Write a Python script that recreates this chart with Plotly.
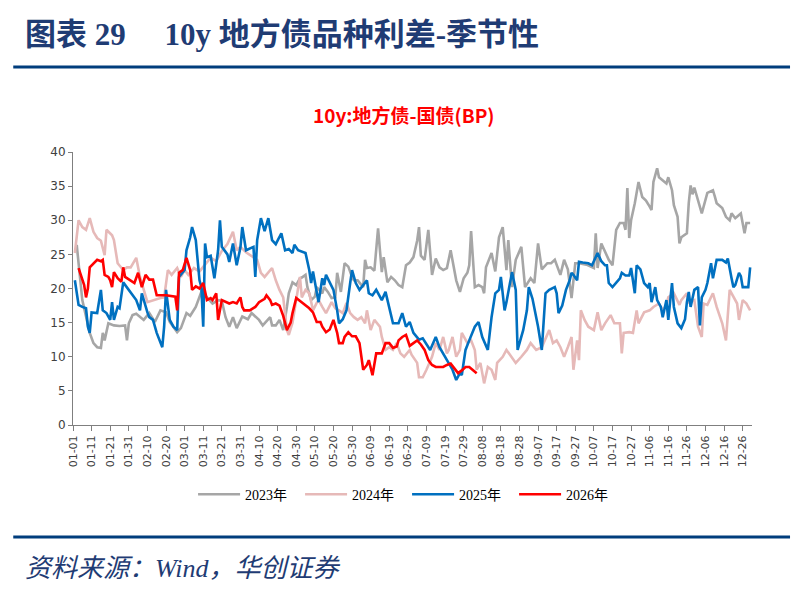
import plotly.graph_objs as go

# x = days since 01-01 (seasonal axis), y = spread in BP
tick_labels = ['01-01', '01-11', '01-21', '01-31', '02-10', '02-20', '03-01', '03-11', '03-21', '03-31',
               '04-10', '04-20', '04-30', '05-10', '05-20', '05-30', '06-09', '06-19', '06-29', '07-09',
               '07-19', '07-29', '08-08', '08-18', '08-28', '09-07', '09-17', '09-27', '10-07', '10-17',
               '10-27', '11-06', '11-16', '11-26', '12-06', '12-16', '12-26']

d2023 = [2, 5, 9, 11, 13, 15, 16, 17, 19, 22, 25, 28, 29, 30, 32, 34, 38, 41, 44, 47, 50, 52, 56, 58, 61, 63,
         66, 69, 72, 75, 78, 80, 82, 84, 86, 88, 91, 94, 96, 100, 102, 106, 107, 109, 111, 113, 115, 116, 118,
         120, 122, 123, 125, 126, 128, 130, 131, 134, 135, 137, 139, 141, 142, 144, 146, 148, 150, 151, 153,
         156, 157, 158, 160, 162, 164, 166, 167, 169, 171, 173, 175, 177, 179, 181, 183, 185, 186, 187, 189,
         191, 193, 195, 197, 199, 201, 203, 206, 208, 210, 212, 213, 214, 216, 218, 220, 221, 222, 225, 227,
         229, 231, 233, 234, 236, 238, 241, 243, 246, 248, 250, 252, 255, 257, 259, 262, 264, 266, 268, 270,
         272, 276, 280, 281, 282, 284, 286, 288, 290, 292, 294, 296, 297, 298, 299, 300, 302, 304, 306, 308,
         310, 311, 312, 314, 315, 317, 319, 320, 322, 323, 325, 326, 327, 330, 331, 332, 333, 334, 336, 338,
         341, 344, 345, 346, 349, 351, 353, 354, 356, 359, 361, 362, 364]
v2023 = [26.4, 18.3, 13.5, 12.0, 11.4, 11.3, 13.5, 12.4, 14.9, 14.6, 14.5, 14.6, 12.4, 14.9, 16.1, 16.3, 15.4,
         16.4, 15.1, 16.8, 16.5, 15.1, 13.6, 14.2, 16.4, 16.0, 17.3, 19.5, 18.7, 17.8, 18.3, 18.2, 15.8, 14.4,
         15.8, 14.2, 15.9, 15.5, 16.4, 15.4, 14.6, 15.8, 14.6, 14.6, 15.4, 13.9, 17.3, 19.3, 20.9, 20.5, 21.5,
         21.6, 22.0, 20.2, 18.3, 18.8, 20.2, 19.3, 20.2, 19.5, 18.6, 18.7, 22.3, 19.5, 23.7, 23.2, 21.7, 21.2,
         21.2, 20.2, 24.2, 23.0, 23.1, 22.6, 28.8, 22.4, 24.6, 20.9, 21.7, 21.2, 20.5, 20.2, 23.4, 23.8, 24.6,
         27.0, 29.0, 24.8, 24.2, 28.6, 22.0, 24.4, 23.1, 22.7, 23.0, 25.6, 21.2, 19.5, 21.5, 22.3, 23.4, 28.4,
         20.2, 20.5, 20.2, 19.3, 23.1, 25.2, 22.5, 27.5, 29.0, 22.7, 27.1, 20.2, 24.2, 26.1, 20.2, 21.5, 20.8,
         26.6, 22.8, 23.7, 23.7, 24.2, 22.0, 24.2, 22.8, 18.6, 23.7, 23.7, 23.5, 23.0, 28.1, 23.0, 26.6, 25.5,
         24.2, 23.4, 28.6, 29.6, 29.6, 28.6, 34.7, 27.4, 30.0, 32.5, 35.6, 33.4, 32.9, 32.0, 31.5, 35.6, 37.6,
         36.3, 35.8, 35.4, 36.3, 34.4, 32.2, 30.5, 26.6, 27.5, 28.1, 32.5, 35.1, 33.8, 34.8, 32.7, 31.0, 34.0,
         34.4, 33.5, 32.5, 31.8, 30.5, 30.0, 31.0, 30.3, 31.0, 28.1, 29.6, 29.6]

d2024 = [1, 3, 5, 7, 9, 11, 13, 15, 17, 18, 21, 22, 24, 27, 29, 31, 34, 36, 40, 43, 47, 49, 51, 53, 55, 56, 58,
         60, 62, 65, 68, 71, 74, 77, 80, 83, 86, 88, 90, 93, 99, 101, 103, 107, 109, 111, 113, 115, 116, 118,
         120, 122, 123, 125, 127, 129, 131, 132, 134, 136, 139, 141, 143, 145, 147, 149, 151, 153, 155, 157,
         158, 160, 162, 165, 166, 168, 170, 172, 174, 176, 178, 181, 182, 185, 186, 188, 190, 193, 195, 197,
         199, 201, 202, 204, 206, 208, 209, 212, 214, 216, 217, 219, 221, 223, 225, 227, 228, 231, 233, 235,
         238, 241, 244, 246, 249, 252, 256, 258, 260, 262, 264, 266, 268, 269, 271, 272, 273, 275, 277, 280,
         282, 284, 286, 289, 291, 294, 295, 296, 299, 301, 303, 304, 307, 310, 312, 315, 317, 319, 320, 323,
         326, 327, 330, 331, 334, 336, 338, 339, 341, 344, 346, 349, 351, 353, 354, 357, 358, 360, 362, 364]
v2024 = [25.2, 30.0, 29.0, 28.6, 30.3, 28.3, 27.4, 27.0, 24.9, 28.6, 27.8, 27.1, 23.7, 22.7, 23.1, 23.1, 24.5,
         21.7, 18.0, 18.3, 18.6, 18.7, 22.7, 22.0, 22.7, 23.0, 21.7, 22.7, 22.0, 23.0, 22.5, 23.5, 24.5, 24.0,
         25.5, 26.5, 28.3, 25.6, 26.1, 25.3, 24.2, 22.3, 21.7, 23.0, 21.2, 19.8, 18.7, 13.9, 13.2, 15.0, 18.3,
         21.7, 18.7, 19.8, 19.3, 16.8, 17.9, 18.3, 17.3, 16.4, 18.0, 17.1, 16.8, 16.4, 17.9, 16.4, 15.8, 15.4,
         15.8, 14.9, 16.8, 13.9, 15.4, 14.4, 12.9, 11.0, 11.4, 11.0, 12.0, 10.5, 10.0, 11.0, 10.3, 9.1, 7.0,
         7.0, 8.1, 10.0, 12.0, 11.0, 12.9, 10.5, 11.0, 12.9, 10.0, 11.0, 13.5, 12.0, 12.4, 11.0, 8.1, 9.1, 6.1,
         8.5, 8.1, 6.6, 9.1, 10.0, 11.0, 10.2, 9.1, 10.0, 11.0, 12.0, 11.0, 11.4, 13.9, 12.0, 12.4, 11.4, 10.0,
         11.4, 12.9, 8.1, 12.4, 9.5, 16.8, 15.4, 14.4, 13.9, 16.5, 13.9, 14.9, 16.1, 14.9, 14.9, 10.5, 13.5,
         13.6, 13.5, 16.8, 14.9, 16.5, 16.8, 17.3, 17.8, 16.8, 17.6, 18.7, 19.3, 17.6, 18.3, 19.3, 18.0, 18.3,
         14.4, 12.9, 17.8, 17.6, 19.3, 17.3, 14.9, 12.4, 19.8, 19.3, 17.8, 15.4, 18.3, 17.8, 16.8]

d2025 = [1, 3, 5, 7, 8, 9, 10, 13, 15, 16, 18, 20, 21, 22, 24, 25, 27, 30, 34, 36, 37, 40, 41, 43, 45, 48, 49,
         50, 52, 54, 56, 57, 58, 60, 61, 63, 64, 66, 68, 69, 70, 71, 72, 74, 76, 78, 79, 80, 83, 84, 86, 88,
         90, 91, 93, 95, 97, 98, 99, 101, 103, 105, 107, 109, 112, 114, 116, 118, 119, 121, 125, 127, 128,
         129, 131, 132, 134, 135, 136, 138, 140, 142, 143, 145, 147, 149, 150, 152, 154, 156, 158, 159, 161,
         163, 165, 166, 168, 170, 172, 174, 175, 177, 179, 181, 183, 186, 188, 192, 195, 197, 199, 201, 204,
         206, 208, 209, 211, 213, 216, 218, 220, 223, 225, 227, 229, 230, 232, 233, 235, 236, 238, 239, 242,
         244, 245, 247, 250, 252, 254, 256, 259, 260, 261, 263, 265, 267, 268, 269, 271, 272, 274, 277, 279,
         282, 284, 286, 287, 288, 290, 292, 294, 295, 297, 299, 300, 302, 303, 305, 307, 309, 310, 311, 313,
         314, 316, 317, 319, 320, 322, 323, 325, 327, 329, 330, 331, 332, 334, 336, 337, 338, 340, 341, 343,
         344, 346, 348, 349, 351, 352, 354, 355, 356, 358, 359, 360, 363, 364]
v2025 = [21.2, 17.6, 17.3, 17.1, 14.4, 13.5, 16.5, 16.4, 19.8, 16.8, 16.4, 15.4, 18.0, 15.4, 17.3, 17.1, 20.9,
         19.8, 18.3, 16.8, 19.3, 16.5, 15.8, 15.4, 13.5, 11.4, 14.4, 19.8, 15.4, 14.4, 13.9, 21.7, 22.0, 22.7,
         25.6, 27.5, 29.0, 27.1, 21.2, 20.2, 14.4, 26.6, 24.6, 24.8, 21.5, 25.6, 30.0, 26.1, 25.0, 23.9, 26.6,
         23.4, 26.0, 29.0, 25.6, 25.8, 26.1, 21.7, 27.1, 30.3, 28.4, 30.3, 27.1, 26.5, 28.1, 25.6, 25.8, 25.2,
         26.4, 25.6, 25.2, 22.7, 20.8, 22.5, 19.8, 18.0, 21.5, 20.5, 22.0, 21.0, 19.8, 16.8, 14.9, 15.5, 16.8,
         20.8, 22.7, 20.8, 19.8, 20.5, 21.2, 19.3, 19.0, 19.8, 18.8, 18.3, 19.5, 17.3, 14.9, 14.9, 14.9, 16.4,
         14.4, 15.1, 13.5, 12.5, 12.7, 11.0, 12.9, 11.4, 10.5, 9.5, 8.1, 6.6, 7.6, 7.3, 11.0, 12.4, 14.4, 15.1,
         12.9, 11.0, 15.8, 19.3, 19.8, 21.7, 16.8, 18.0, 20.8, 22.4, 19.8, 11.0, 13.9, 16.8, 20.2, 18.5, 14.4,
         11.0, 19.3, 19.8, 20.2, 19.3, 16.4, 17.5, 19.8, 21.2, 22.3, 22.0, 21.2, 23.9, 23.8, 23.7, 23.4, 25.2,
         24.0, 23.4, 23.4, 20.8, 20.2, 20.8, 21.5, 22.3, 21.9, 21.9, 23.0, 19.3, 23.4, 22.8, 20.8, 20.2, 20.8,
         18.0, 20.2, 18.3, 17.3, 15.8, 18.3, 15.4, 20.8, 17.3, 14.9, 14.2, 15.5, 18.0, 19.5, 17.3, 19.8, 20.2,
         14.6, 18.7, 19.8, 20.8, 23.7, 21.5, 24.2, 24.2, 24.2, 23.8, 24.4, 21.5, 20.2, 20.5, 22.3, 21.8, 20.2,
         20.2, 23.1]

d2026 = [3, 5, 6, 7, 8, 9, 11, 13, 15, 16, 17, 19, 20, 21, 22, 24, 26, 27, 28, 30, 33, 35, 37, 39, 41, 43, 45,
         50, 55, 56, 57, 59, 61, 63, 64, 66, 68, 70, 72, 74, 75, 77, 78, 80, 84, 86, 88, 90, 91, 92, 95, 98,
         100, 103, 104, 106, 107, 109, 111, 113, 115, 117, 118, 120, 122, 124, 126, 127, 129, 131, 133, 134,
         136, 138, 140, 142, 143, 145, 146, 148, 150, 152, 154, 156, 158, 159, 161, 163, 165, 166, 168, 170,
         172, 174, 175, 177, 179, 181, 183, 185, 187, 189, 191, 193, 195, 197, 199, 201, 203, 205, 207, 209,
         211, 213, 215, 217]
v2026 = [23.0, 21.2, 20.5, 18.7, 20.0, 23.1, 23.7, 24.2, 24.0, 24.2, 22.0, 21.7, 21.2, 20.2, 22.4, 21.5, 21.0,
         23.1, 21.7, 21.3, 20.8, 22.3, 20.2, 22.0, 21.3, 21.3, 19.0, 19.0, 18.8, 16.8, 22.3, 22.7, 24.5, 22.7,
         19.8, 20.3, 20.0, 20.8, 18.3, 18.6, 18.3, 19.3, 15.4, 18.3, 17.8, 18.0, 17.8, 18.7, 17.3, 16.8, 16.8,
         17.3, 18.0, 18.5, 19.0, 18.3, 17.6, 17.8, 17.5, 16.0, 13.9, 15.0, 16.4, 18.6, 18.2, 17.8, 17.3, 17.1,
         16.5, 15.1, 15.1, 14.4, 13.6, 14.0, 15.4, 13.5, 12.0, 12.0, 12.9, 13.6, 13.0, 13.0, 12.0, 8.1, 8.8,
         9.5, 7.3, 10.5, 10.5, 10.5, 12.0, 12.0, 11.3, 11.5, 12.4, 12.9, 13.2, 11.6, 12.0, 12.4, 11.8, 11.0,
         9.5, 8.8, 8.5, 8.5, 8.5, 8.8, 9.0, 8.3, 7.6, 8.0, 8.5, 8.5, 8.1, 7.6]

series = [
    ('2023年', d2023, v2023, '#A6A6A6'),
    ('2024年', d2024, v2024, '#E6B9B8'),
    ('2025年', d2025, v2025, '#0070C0'),
    ('2026年', d2026, v2026, '#FF0000'),
]

navy = '#1F3C74'

fig = go.Figure()
for name, d, v, color in series:
    fig.add_trace(go.Scatter(x=d, y=v, name=name, mode='lines',
                             line=dict(color=color, width=2.6)))

fig.update_layout(
    width=802, height=595, autosize=False,
    margin=dict(l=65, r=58, t=144, b=178),
    plot_bgcolor='white', paper_bgcolor='white',
    showlegend=True,
    legend=dict(orientation='h', x=0.492, xanchor='center', y=-0.255, yanchor='middle',
                font=dict(family='Liberation Serif, Noto Sans CJK SC', size=14, color='#000000'),
                itemwidth=42, entrywidth=50, entrywidthmode='pixels', traceorder='normal'),
    xaxis=dict(range=[0, 365], tickmode='array',
               tickvals=[10 * i for i in range(len(tick_labels))], ticktext=tick_labels,
               tickangle=-90, ticks='outside', ticklen=5, tickcolor='#7F7F7F',
               showline=True, linecolor='#7F7F7F', linewidth=1, showgrid=False, zeroline=False,
               tickfont=dict(family='DejaVu Sans', size=11, color='#404040')),
    yaxis=dict(range=[0, 40], dtick=5, ticks='outside', ticklen=4, tickcolor='#7F7F7F',
               showline=True, linecolor='#7F7F7F', linewidth=1, showgrid=False, zeroline=False,
               tickfont=dict(family='DejaVu Sans', size=12, color='#404040')),
)

# header / footer
fig.add_annotation(text='<b>图表 29     10y 地方债品种利差-季节性</b>', xref='paper', yref='paper',
                   x=-0.074, y=1.43, xanchor='left', yanchor='middle', showarrow=False,
                   font=dict(family='Liberation Serif, Noto Sans CJK SC', size=31, color=navy))
fig.add_shape(type='line', xref='paper', yref='paper', x0=-0.088, x1=1.056, y0=1.311, y1=1.311,
              line=dict(color='#003D7C', width=3))
fig.add_annotation(text='<b>10y:地方债-国债(BP)</b>', xref='paper', yref='paper',
                   x=0.487, y=1.138, xanchor='center', yanchor='middle', showarrow=False,
                   font=dict(family='Noto Sans CJK SC', size=19, color='#FF0000'))
fig.add_shape(type='line', xref='paper', yref='paper', x0=-0.088, x1=1.056, y0=-0.41, y1=-0.41,
              line=dict(color='#003D7C', width=3))
fig.add_annotation(text='<i>资料来源：Wind，华创证券</i>', xref='paper', yref='paper',
                   x=-0.074, y=-0.525, xanchor='left', yanchor='middle', showarrow=False,
                   font=dict(family='Liberation Serif, Noto Sans CJK SC', size=26, color=navy))

fig.write_html('out.html')
